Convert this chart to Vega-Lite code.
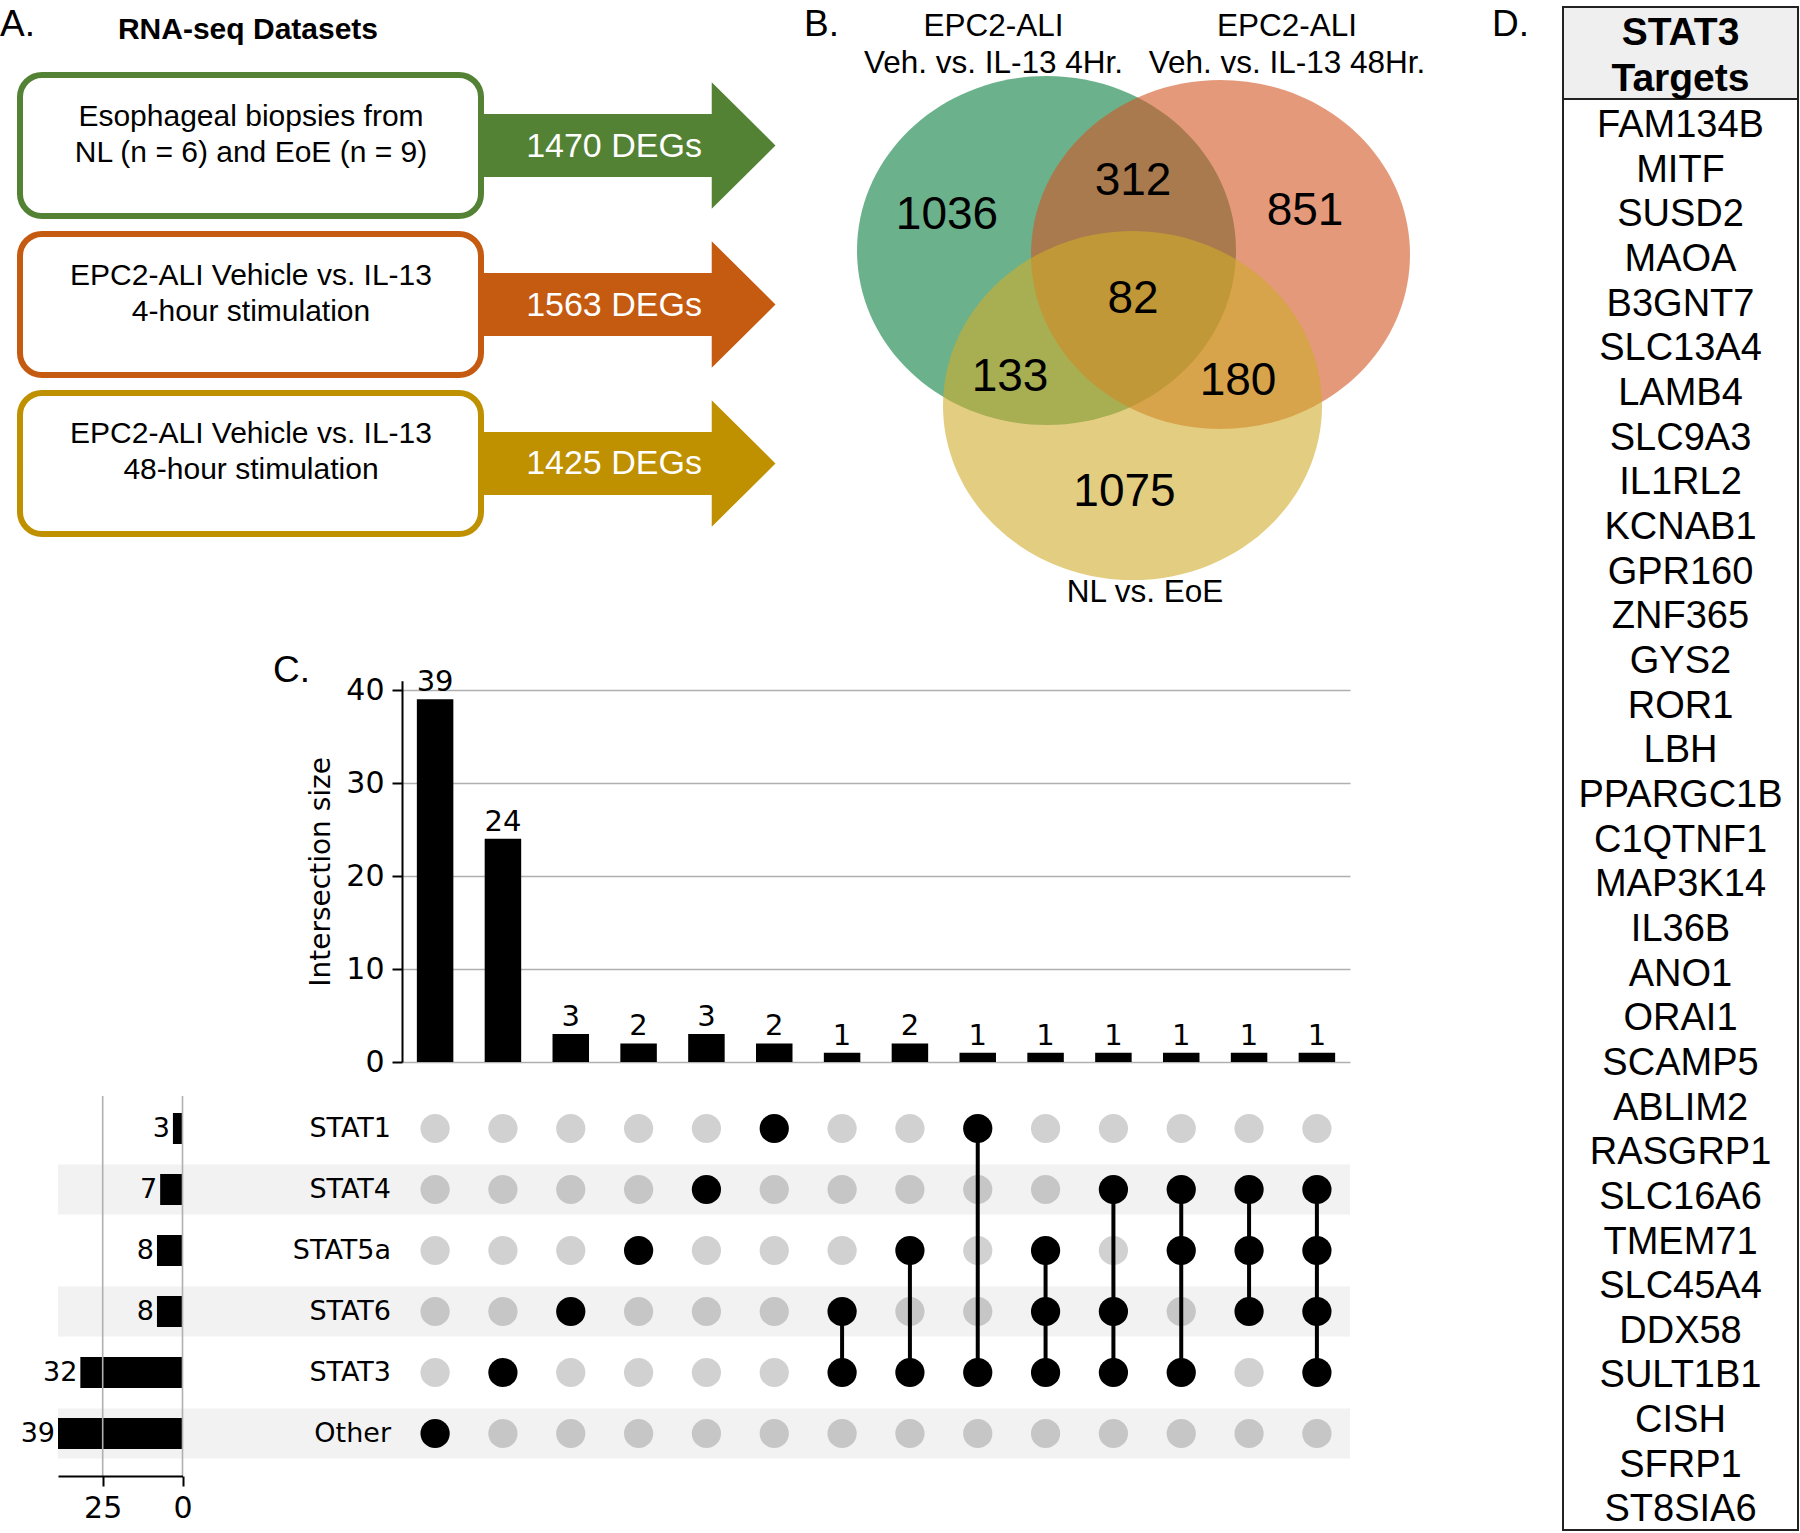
{
  "$schema": "https://vega.github.io/schema/vega-lite/v6.json",
  "width": 1800,
  "height": 1533,
  "autosize": {"type": "none"},
  "padding": 0,
  "background": "white",
  "config": {
    "view": {"stroke": null},
    "font": "Liberation Sans",
    "text": {"color": "black", "font": "Liberation Sans"}
  },
  "datasets": {
    "rnaseq": [
      {"dataset": "NL vs. EoE biopsies", "description": "Esophageal biopsies from\nNL (n = 6) and EoE (n = 9)", "degs": 1470, "label": "1470 DEGs"},
      {"dataset": "EPC2-ALI 4-hour", "description": "EPC2-ALI Vehicle vs. IL-13\n4-hour stimulation", "degs": 1563, "label": "1563 DEGs"},
      {"dataset": "EPC2-ALI 48-hour", "description": "EPC2-ALI Vehicle vs. IL-13\n48-hour stimulation", "degs": 1425, "label": "1425 DEGs"}
    ],
    "venn_sets": [
      {"set": "EPC2-ALI Veh. vs. IL-13 4Hr.", "label": "EPC2-ALI\nVeh. vs. IL-13 4Hr.", "degs": 1563},
      {"set": "EPC2-ALI Veh. vs. IL-13 48Hr.", "label": "EPC2-ALI\nVeh. vs. IL-13 48Hr.", "degs": 1425},
      {"set": "NL vs. EoE", "label": "NL vs. EoE", "degs": 1470}
    ],
    "venn_regions": [
      {"region": "4Hr only", "count": 1036},
      {"region": "4Hr and 48Hr", "count": 312},
      {"region": "48Hr only", "count": 851},
      {"region": "all three", "count": 82},
      {"region": "4Hr and NL vs. EoE", "count": 133},
      {"region": "48Hr and NL vs. EoE", "count": 180},
      {"region": "NL vs. EoE only", "count": 1075}
    ],
    "intersections": [
      {"id": 1, "size": 39, "STAT1": 0, "STAT4": 0, "STAT5a": 0, "STAT6": 0, "STAT3": 0, "Other": 1},
      {"id": 2, "size": 24, "STAT1": 0, "STAT4": 0, "STAT5a": 0, "STAT6": 0, "STAT3": 1, "Other": 0},
      {"id": 3, "size": 3, "STAT1": 0, "STAT4": 0, "STAT5a": 0, "STAT6": 1, "STAT3": 0, "Other": 0},
      {"id": 4, "size": 2, "STAT1": 0, "STAT4": 0, "STAT5a": 1, "STAT6": 0, "STAT3": 0, "Other": 0},
      {"id": 5, "size": 3, "STAT1": 0, "STAT4": 1, "STAT5a": 0, "STAT6": 0, "STAT3": 0, "Other": 0},
      {"id": 6, "size": 2, "STAT1": 1, "STAT4": 0, "STAT5a": 0, "STAT6": 0, "STAT3": 0, "Other": 0},
      {"id": 7, "size": 1, "STAT1": 0, "STAT4": 0, "STAT5a": 0, "STAT6": 1, "STAT3": 1, "Other": 0},
      {"id": 8, "size": 2, "STAT1": 0, "STAT4": 0, "STAT5a": 1, "STAT6": 0, "STAT3": 1, "Other": 0},
      {"id": 9, "size": 1, "STAT1": 1, "STAT4": 0, "STAT5a": 0, "STAT6": 0, "STAT3": 1, "Other": 0},
      {"id": 10, "size": 1, "STAT1": 0, "STAT4": 0, "STAT5a": 1, "STAT6": 1, "STAT3": 1, "Other": 0},
      {"id": 11, "size": 1, "STAT1": 0, "STAT4": 1, "STAT5a": 0, "STAT6": 1, "STAT3": 1, "Other": 0},
      {"id": 12, "size": 1, "STAT1": 0, "STAT4": 1, "STAT5a": 1, "STAT6": 0, "STAT3": 1, "Other": 0},
      {"id": 13, "size": 1, "STAT1": 0, "STAT4": 1, "STAT5a": 1, "STAT6": 1, "STAT3": 0, "Other": 0},
      {"id": 14, "size": 1, "STAT1": 0, "STAT4": 1, "STAT5a": 1, "STAT6": 1, "STAT3": 1, "Other": 0}
    ],
    "set_sizes": [
      {"set": "STAT1", "size": 3},
      {"set": "STAT4", "size": 7},
      {"set": "STAT5a", "size": 8},
      {"set": "STAT6", "size": 8},
      {"set": "STAT3", "size": 32},
      {"set": "Other", "size": 39}
    ],
    "stat3_targets": [
      {"gene": "FAM134B"}, {"gene": "MITF"}, {"gene": "SUSD2"}, {"gene": "MAOA"},
      {"gene": "B3GNT7"}, {"gene": "SLC13A4"}, {"gene": "LAMB4"}, {"gene": "SLC9A3"},
      {"gene": "IL1RL2"}, {"gene": "KCNAB1"}, {"gene": "GPR160"}, {"gene": "ZNF365"},
      {"gene": "GYS2"}, {"gene": "ROR1"}, {"gene": "LBH"}, {"gene": "PPARGC1B"},
      {"gene": "C1QTNF1"}, {"gene": "MAP3K14"}, {"gene": "IL36B"}, {"gene": "ANO1"},
      {"gene": "ORAI1"}, {"gene": "SCAMP5"}, {"gene": "ABLIM2"}, {"gene": "RASGRP1"},
      {"gene": "SLC16A6"}, {"gene": "TMEM71"}, {"gene": "SLC45A4"}, {"gene": "DDX58"},
      {"gene": "SULT1B1"}, {"gene": "CISH"}, {"gene": "SFRP1"}, {"gene": "ST8SIA6"}
    ]
  },
  "layer": [
    {
      "layer": [
        {"data": {"values": [{"label": "A."}]}, "mark": {"type": "text", "fontSize": 37, "align": "left", "baseline": "alphabetic"},
         "encoding": {"x": {"datum": 0, "type": "quantitative", "scale": {"domain": [0, 1800], "range": [0, 1800], "nice": false, "zero": false}, "axis": null},
                      "y": {"datum": 36, "type": "quantitative", "scale": {"domain": [0, 1533], "range": [0, 1533], "nice": false, "zero": false}, "axis": null},
                      "text": {"field": "label"}}},
        {"data": {"values": [{"label": "B."}]}, "mark": {"type": "text", "fontSize": 37, "align": "left", "baseline": "alphabetic"},
         "encoding": {"x": {"datum": 804, "type": "quantitative"}, "y": {"datum": 36, "type": "quantitative"}, "text": {"field": "label"}}},
        {"data": {"values": [{"label": "C."}]}, "mark": {"type": "text", "fontSize": 37, "align": "left", "baseline": "alphabetic"},
         "encoding": {"x": {"datum": 273, "type": "quantitative"}, "y": {"datum": 682, "type": "quantitative"}, "text": {"field": "label"}}},
        {"data": {"values": [{"label": "D."}]}, "mark": {"type": "text", "fontSize": 37, "align": "left", "baseline": "alphabetic"},
         "encoding": {"x": {"datum": 1492, "type": "quantitative"}, "y": {"datum": 36, "type": "quantitative"}, "text": {"field": "label"}}},
        {"data": {"values": [{"label": "RNA-seq Datasets"}]}, "mark": {"type": "text", "fontSize": 30, "fontWeight": "bold", "align": "center", "baseline": "middle"},
         "encoding": {"x": {"datum": 248, "type": "quantitative"}, "y": {"datum": 30, "type": "quantitative"}, "text": {"field": "label"}}},

        {"data": {"name": "venn_sets"}, "transform": [{"filter": "datum.set == 'EPC2-ALI Veh. vs. IL-13 4Hr.'"}],
         "mark": {"type": "point", "shape": "M-1,0C-1,-0.5087,-0.5523,-0.921,0,-0.921C0.5523,-0.921,1,-0.5087,1,0C1,0.5087,0.5523,0.921,0,0.921C-0.5523,0.921,-1,0.5087,-1,0Z", "size": 143641, "filled": true, "opacity": 0.6, "strokeWidth": 0},
         "encoding": {"x": {"datum": 1046.5, "type": "quantitative"}, "y": {"datum": 250.5, "type": "quantitative"},
                      "color": {"field": "set", "type": "nominal", "scale": {"domain": ["EPC2-ALI Veh. vs. IL-13 4Hr.", "EPC2-ALI Veh. vs. IL-13 48Hr.", "NL vs. EoE"], "range": ["#087F3F", "#D25523", "#D0AC2B"]}, "legend": null}}},
        {"data": {"name": "venn_sets"}, "transform": [{"filter": "datum.set == 'EPC2-ALI Veh. vs. IL-13 48Hr.'"}],
         "mark": {"type": "point", "shape": "M-1,0C-1,-0.5087,-0.5523,-0.921,0,-0.921C0.5523,-0.921,1,-0.5087,1,0C1,0.5087,0.5523,0.921,0,0.921C-0.5523,0.921,-1,0.5087,-1,0Z", "size": 143641, "filled": true, "opacity": 0.6, "strokeWidth": 0},
         "encoding": {"x": {"datum": 1220.5, "type": "quantitative"}, "y": {"datum": 254.5, "type": "quantitative"},
                      "color": {"field": "set", "type": "nominal", "legend": null}}},
        {"data": {"name": "venn_sets"}, "transform": [{"filter": "datum.set == 'NL vs. EoE'"}],
         "mark": {"type": "point", "shape": "M-1,0C-1,-0.5087,-0.5523,-0.921,0,-0.921C0.5523,-0.921,1,-0.5087,1,0C1,0.5087,0.5523,0.921,0,0.921C-0.5523,0.921,-1,0.5087,-1,0Z", "size": 143641, "filled": true, "opacity": 0.6, "strokeWidth": 0},
         "encoding": {"x": {"datum": 1132.5, "type": "quantitative"}, "y": {"datum": 405.5, "type": "quantitative"},
                      "color": {"field": "set", "type": "nominal", "legend": null}}},

        {"data": {"name": "venn_sets"}, "transform": [{"filter": "datum.set == 'EPC2-ALI Veh. vs. IL-13 4Hr.'"}],
         "mark": {"type": "text", "fontSize": 31.5, "align": "center", "baseline": "middle", "lineBreak": "\n", "lineHeight": 37},
         "encoding": {"x": {"datum": 993.5, "type": "quantitative"}, "y": {"datum": 26.5, "type": "quantitative"}, "text": {"field": "label"}}},
        {"data": {"name": "venn_sets"}, "transform": [{"filter": "datum.set == 'EPC2-ALI Veh. vs. IL-13 48Hr.'"}],
         "mark": {"type": "text", "fontSize": 31.5, "align": "center", "baseline": "middle", "lineBreak": "\n", "lineHeight": 37},
         "encoding": {"x": {"datum": 1287, "type": "quantitative"}, "y": {"datum": 26.5, "type": "quantitative"}, "text": {"field": "label"}}},
        {"data": {"name": "venn_sets"}, "transform": [{"filter": "datum.set == 'NL vs. EoE'"}],
         "mark": {"type": "text", "fontSize": 31.5, "align": "center", "baseline": "middle"},
         "encoding": {"x": {"datum": 1145, "type": "quantitative"}, "y": {"datum": 593, "type": "quantitative"}, "text": {"field": "label"}}},

        {"data": {"name": "venn_regions"}, "transform": [{"filter": "datum.region == '4Hr only'"}],
         "mark": {"type": "text", "fontSize": 46, "align": "center", "baseline": "middle"},
         "encoding": {"x": {"datum": 947, "type": "quantitative"}, "y": {"datum": 214.5, "type": "quantitative"}, "text": {"field": "count", "type": "quantitative", "format": "d"}}},
        {"data": {"name": "venn_regions"}, "transform": [{"filter": "datum.region == '4Hr and 48Hr'"}],
         "mark": {"type": "text", "fontSize": 46, "align": "center", "baseline": "middle"},
         "encoding": {"x": {"datum": 1133, "type": "quantitative"}, "y": {"datum": 180.5, "type": "quantitative"}, "text": {"field": "count", "type": "quantitative", "format": "d"}}},
        {"data": {"name": "venn_regions"}, "transform": [{"filter": "datum.region == '48Hr only'"}],
         "mark": {"type": "text", "fontSize": 46, "align": "center", "baseline": "middle"},
         "encoding": {"x": {"datum": 1305, "type": "quantitative"}, "y": {"datum": 210.5, "type": "quantitative"}, "text": {"field": "count", "type": "quantitative", "format": "d"}}},
        {"data": {"name": "venn_regions"}, "transform": [{"filter": "datum.region == 'all three'"}],
         "mark": {"type": "text", "fontSize": 46, "align": "center", "baseline": "middle"},
         "encoding": {"x": {"datum": 1133, "type": "quantitative"}, "y": {"datum": 298.5, "type": "quantitative"}, "text": {"field": "count", "type": "quantitative", "format": "d"}}},
        {"data": {"name": "venn_regions"}, "transform": [{"filter": "datum.region == '4Hr and NL vs. EoE'"}],
         "mark": {"type": "text", "fontSize": 46, "align": "center", "baseline": "middle"},
         "encoding": {"x": {"datum": 1010, "type": "quantitative"}, "y": {"datum": 376.5, "type": "quantitative"}, "text": {"field": "count", "type": "quantitative", "format": "d"}}},
        {"data": {"name": "venn_regions"}, "transform": [{"filter": "datum.region == '48Hr and NL vs. EoE'"}],
         "mark": {"type": "text", "fontSize": 46, "align": "center", "baseline": "middle"},
         "encoding": {"x": {"datum": 1238, "type": "quantitative"}, "y": {"datum": 380.5, "type": "quantitative"}, "text": {"field": "count", "type": "quantitative", "format": "d"}}},
        {"data": {"name": "venn_regions"}, "transform": [{"filter": "datum.region == 'NL vs. EoE only'"}],
         "mark": {"type": "text", "fontSize": 46, "align": "center", "baseline": "middle"},
         "encoding": {"x": {"datum": 1124.5, "type": "quantitative"}, "y": {"datum": 491.5, "type": "quantitative"}, "text": {"field": "count", "type": "quantitative", "format": "d"}}},

        {"data": {"values": [{"header": "STAT3 Targets"}]},
         "mark": {"type": "rect", "fill": "#efefef", "stroke": "#222222", "strokeWidth": 2},
         "encoding": {"x": {"datum": 1563, "type": "quantitative"}, "x2": {"datum": 1798}, "y": {"datum": 7, "type": "quantitative"}, "y2": {"datum": 99}}},
        {"data": {"values": [{"header": "STAT3 Targets"}]},
         "mark": {"type": "rect", "fill": "white", "fillOpacity": 0, "stroke": "#222222", "strokeWidth": 2},
         "encoding": {"x": {"datum": 1563, "type": "quantitative"}, "x2": {"datum": 1798}, "y": {"datum": 7, "type": "quantitative"}, "y2": {"datum": 1530}}},
        {"data": {"values": [{"header": "STAT3 Targets"}]},
         "mark": {"type": "text", "fontSize": 39, "fontWeight": "bold", "align": "center", "baseline": "middle", "lineBreak": " ", "lineHeight": 46},
         "encoding": {"x": {"datum": 1680.5, "type": "quantitative"}, "y": {"datum": 33, "type": "quantitative"}, "text": {"field": "header"}}}
      ]
    },
    {
      "data": {"name": "rnaseq"},
      "encoding": {
        "y": {"field": "dataset", "type": "nominal", "sort": null, "scale": {"type": "band", "range": [75, 534], "paddingInner": 0.1132, "paddingOuter": 0}, "axis": null}
      },
      "layer": [
        {"mark": {"type": "point", "shape": "M0,-0.4976L3.645,-0.4976L3.645,-1L4.652,0L3.645,1L3.645,0.4976L0,0.4976Z", "size": 16028, "filled": true, "opacity": 1, "strokeWidth": 0},
         "encoding": {"x": {"datum": 481, "type": "quantitative", "scale": {"domain": [0, 1800], "range": [0, 1800], "nice": false, "zero": false}, "axis": null},
                      "color": {"field": "dataset", "type": "nominal", "sort": null, "scale": {"domain": ["NL vs. EoE biopsies", "EPC2-ALI 4-hour", "EPC2-ALI 48-hour"], "range": ["#548235", "#C55A11", "#BF9000"]}, "legend": null}}},
        {"mark": {"type": "rect", "fill": "white", "strokeWidth": 6, "cornerRadius": 22},
         "encoding": {"x": {"datum": 20, "type": "quantitative"}, "x2": {"datum": 481},
                      "stroke": {"field": "dataset", "type": "nominal", "sort": null, "scale": {"domain": ["NL vs. EoE biopsies", "EPC2-ALI 4-hour", "EPC2-ALI 48-hour"], "range": ["#548235", "#C55A11", "#BF9000"]}, "legend": null}}},
        {"mark": {"type": "text", "fontSize": 30, "align": "center", "baseline": "middle", "lineBreak": "\n", "lineHeight": 36, "dy": -29},
         "encoding": {"x": {"datum": 251, "type": "quantitative"}, "text": {"field": "description"}}},
        {"mark": {"type": "text", "fontSize": 34, "align": "center", "baseline": "middle", "color": "white", "dy": 1},
         "encoding": {"x": {"datum": 614, "type": "quantitative"}, "text": {"field": "label"}}}
      ]
    },
    {
      "data": {"name": "set_sizes"},
      "encoding": {
        "y": {"field": "set", "type": "nominal", "sort": ["STAT1", "STAT4", "STAT5a", "STAT6", "STAT3", "Other"], "scale": {"type": "band", "range": [1098, 1464], "paddingInner": 0.18, "paddingOuter": 0.09}, "axis": null}
      },
      "layer": [
        {"transform": [{"filter": {"field": "set", "oneOf": ["STAT4", "STAT6", "Other"]}}],
         "mark": {"type": "rect", "fill": "#f2f2f2"},
         "encoding": {"x": {"datum": 57.9, "type": "quantitative", "scale": {"domain": [0, 1800], "range": [0, 1800], "nice": false, "zero": false}, "axis": null}, "x2": {"datum": 1350}}},
        {"mark": {"type": "text", "font": "DejaVu Sans", "fontSize": 27, "align": "right", "baseline": "middle"},
         "encoding": {"x": {"datum": 391, "type": "quantitative"}, "text": {"field": "set"}}}
      ]
    },
    {
      "data": {"name": "set_sizes"},
      "encoding": {
        "y": {"field": "set", "type": "nominal", "sort": ["STAT1", "STAT4", "STAT5a", "STAT6", "STAT3", "Other"], "scale": {"type": "band", "range": [1098, 1464], "paddingInner": 0.18, "paddingOuter": 0.09}, "axis": null},
        "x": {"field": "size", "type": "quantitative", "scale": {"domain": [0, 39], "range": [182.5, 58], "nice": false, "zero": true},
              "axis": {"orient": "bottom", "offset": -57, "values": [0, 25], "grid": false, "labelFlush": false, "labelOverlap": false, "domainColor": "black", "domainWidth": 2, "tickColor": "black", "tickWidth": 2, "tickSize": 10, "labelFont": "DejaVu Sans", "labelFontSize": 30, "labelColor": "black", "labelPadding": 7, "title": null, "zindex": 1}}
      },
      "layer": [
        {"mark": {"type": "bar", "color": "black", "height": {"band": 0.62}}},
        {"mark": {"type": "text", "font": "DejaVu Sans", "fontSize": 27, "align": "right", "baseline": "middle", "dx": -3},
         "encoding": {"text": {"field": "size", "type": "quantitative", "format": "d"}}}
      ]
    },
    {
      "data": {"values": [{"tick": 0}, {"tick": 25}]},
      "mark": {"type": "rule", "color": "#b0b0b0", "strokeWidth": 1.6},
      "encoding": {
        "x": {"field": "tick", "type": "quantitative", "scale": {"domain": [0, 39], "range": [182.5, 58], "nice": false, "zero": true}, "axis": null},
        "y": {"datum": 1096, "type": "quantitative", "scale": {"domain": [0, 1533], "range": [0, 1533], "nice": false, "zero": false}, "axis": null},
        "y2": {"datum": 1476}
      }
    },
    {
      "data": {"name": "intersections"},
      "transform": [{"fold": ["STAT1", "STAT4", "STAT5a", "STAT6", "STAT3", "Other"], "as": ["set", "member"]}],
      "encoding": {
        "x": {"field": "id", "type": "nominal", "sort": null, "scale": {"type": "band", "range": [402, 1350], "paddingInner": 0.462, "paddingOuter": 0.219}, "axis": null},
        "y": {"field": "set", "type": "nominal", "sort": ["STAT1", "STAT4", "STAT5a", "STAT6", "STAT3", "Other"], "scale": {"type": "band", "range": [1098, 1464], "paddingInner": 0.18, "paddingOuter": 0.09}, "axis": null}
      },
      "layer": [
        {"transform": [{"filter": "datum.member == 1"}],
         "mark": {"type": "line", "color": "black", "strokeWidth": 4},
         "encoding": {"detail": {"field": "id", "type": "nominal"}}},
        {"mark": {"type": "circle", "size": 855, "color": "black"},
         "encoding": {"opacity": {"condition": {"test": "datum.member == 1", "value": 1}, "value": 0.18}}}
      ]
    },
    {
      "data": {"name": "intersections"},
      "encoding": {
        "x": {"field": "id", "type": "nominal", "sort": null, "scale": {"type": "band", "range": [402, 1350], "paddingInner": 0.462, "paddingOuter": 0.219}, "axis": null},
        "y": {"field": "size", "type": "quantitative", "scale": {"domain": [0, 41], "range": [1062, 680.7], "nice": false, "zero": true},
              "axis": {"orient": "left", "offset": -402, "values": [0, 10, 20, 30, 40], "grid": true, "labelFlush": false, "gridColor": "#b0b0b0", "gridWidth": 1.6, "domainColor": "black", "domainWidth": 2, "tickColor": "black", "tickWidth": 2, "tickSize": 10, "labelFont": "DejaVu Sans", "labelFontSize": 30, "labelColor": "black", "labelPadding": 8, "title": "Intersection size", "titleFont": "DejaVu Sans", "titleFontSize": 28, "titleFontWeight": "normal", "titleColor": "black", "titlePadding": 10}}
      },
      "layer": [
        {"mark": {"type": "bar", "color": "black"}},
        {"mark": {"type": "text", "font": "DejaVu Sans", "fontSize": 29, "align": "center", "baseline": "alphabetic", "dy": -8},
         "encoding": {"text": {"field": "size", "type": "quantitative", "format": "d"}}}
      ]
    },
    {
      "data": {"name": "stat3_targets"},
      "mark": {"type": "text", "fontSize": 38, "align": "center", "baseline": "middle"},
      "encoding": {
        "x": {"datum": 1680.5, "type": "quantitative", "scale": {"domain": [0, 1800], "range": [0, 1800], "nice": false, "zero": false}, "axis": null},
        "y": {"field": "gene", "type": "nominal", "sort": null, "scale": {"type": "band", "range": [103.7, 1532.8], "paddingInner": 0, "paddingOuter": 0}, "axis": null},
        "text": {"field": "gene"}
      }
    }
  ],
  "resolve": {
    "scale": {"x": "independent", "y": "independent", "color": "independent", "stroke": "independent", "opacity": "independent"},
    "axis": {"x": "independent", "y": "independent"}
  }
}
